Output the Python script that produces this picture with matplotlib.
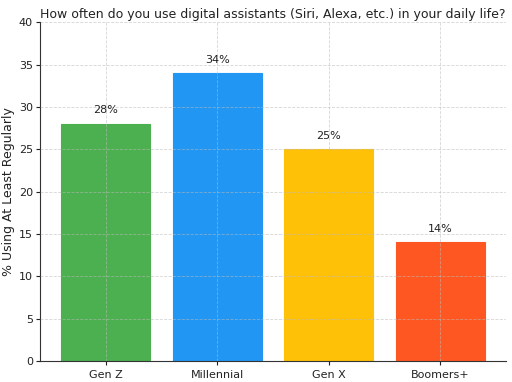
import matplotlib
matplotlib.use("Agg")
import matplotlib.pyplot as plt

categories = ["Gen Z", "Millennial", "Gen X", "Boomers+"]
values = [28, 34, 25, 14]
colors = ["#4CAF50", "#2196F3", "#FFC107", "#FF5722"]
yticks = [0, 5, 10, 15, 20, 25, 30, 35, 40]

fig = plt.figure(figsize=(5.12, 3.82), dpi=100)
ax = fig.add_axes([0.078, 0.055, 0.91, 0.887])
bars = ax.bar(categories, values, color=colors, width=0.8, edgecolor=colors, linewidth=0.8)
for b, v in zip(bars, values):
    ax.text(b.get_x() + b.get_width() / 2, v + 1, f"{v}%", ha="center", va="bottom",
            fontsize=8, color="#222222")
ax.set_ylim(0, 40)
ax.set_yticks(yticks)
ax.grid(True, linestyle="--", color="#bbbbbb", linewidth=0.6, alpha=0.6)
ax.set_axisbelow(False)
for s in ["top", "right"]:
    ax.spines[s].set_visible(False)
ax.spines["left"].set_color("#333333")
ax.spines["bottom"].set_color("#333333")
ax.tick_params(labelsize=8, colors="#222222", length=3)
ax.tick_params(axis="y", pad=2)
ax.set_ylabel("% Using At Least Regularly", fontsize=9, color="#222222")
ax.yaxis.set_label_coords(-0.054, 0.5)
ax.set_title("How often do you use digital assistants (Siri, Alexa, etc.) in your daily life?",
             fontsize=9, color="#222222", pad=3)
fig.savefig("out.png", dpi=100)
